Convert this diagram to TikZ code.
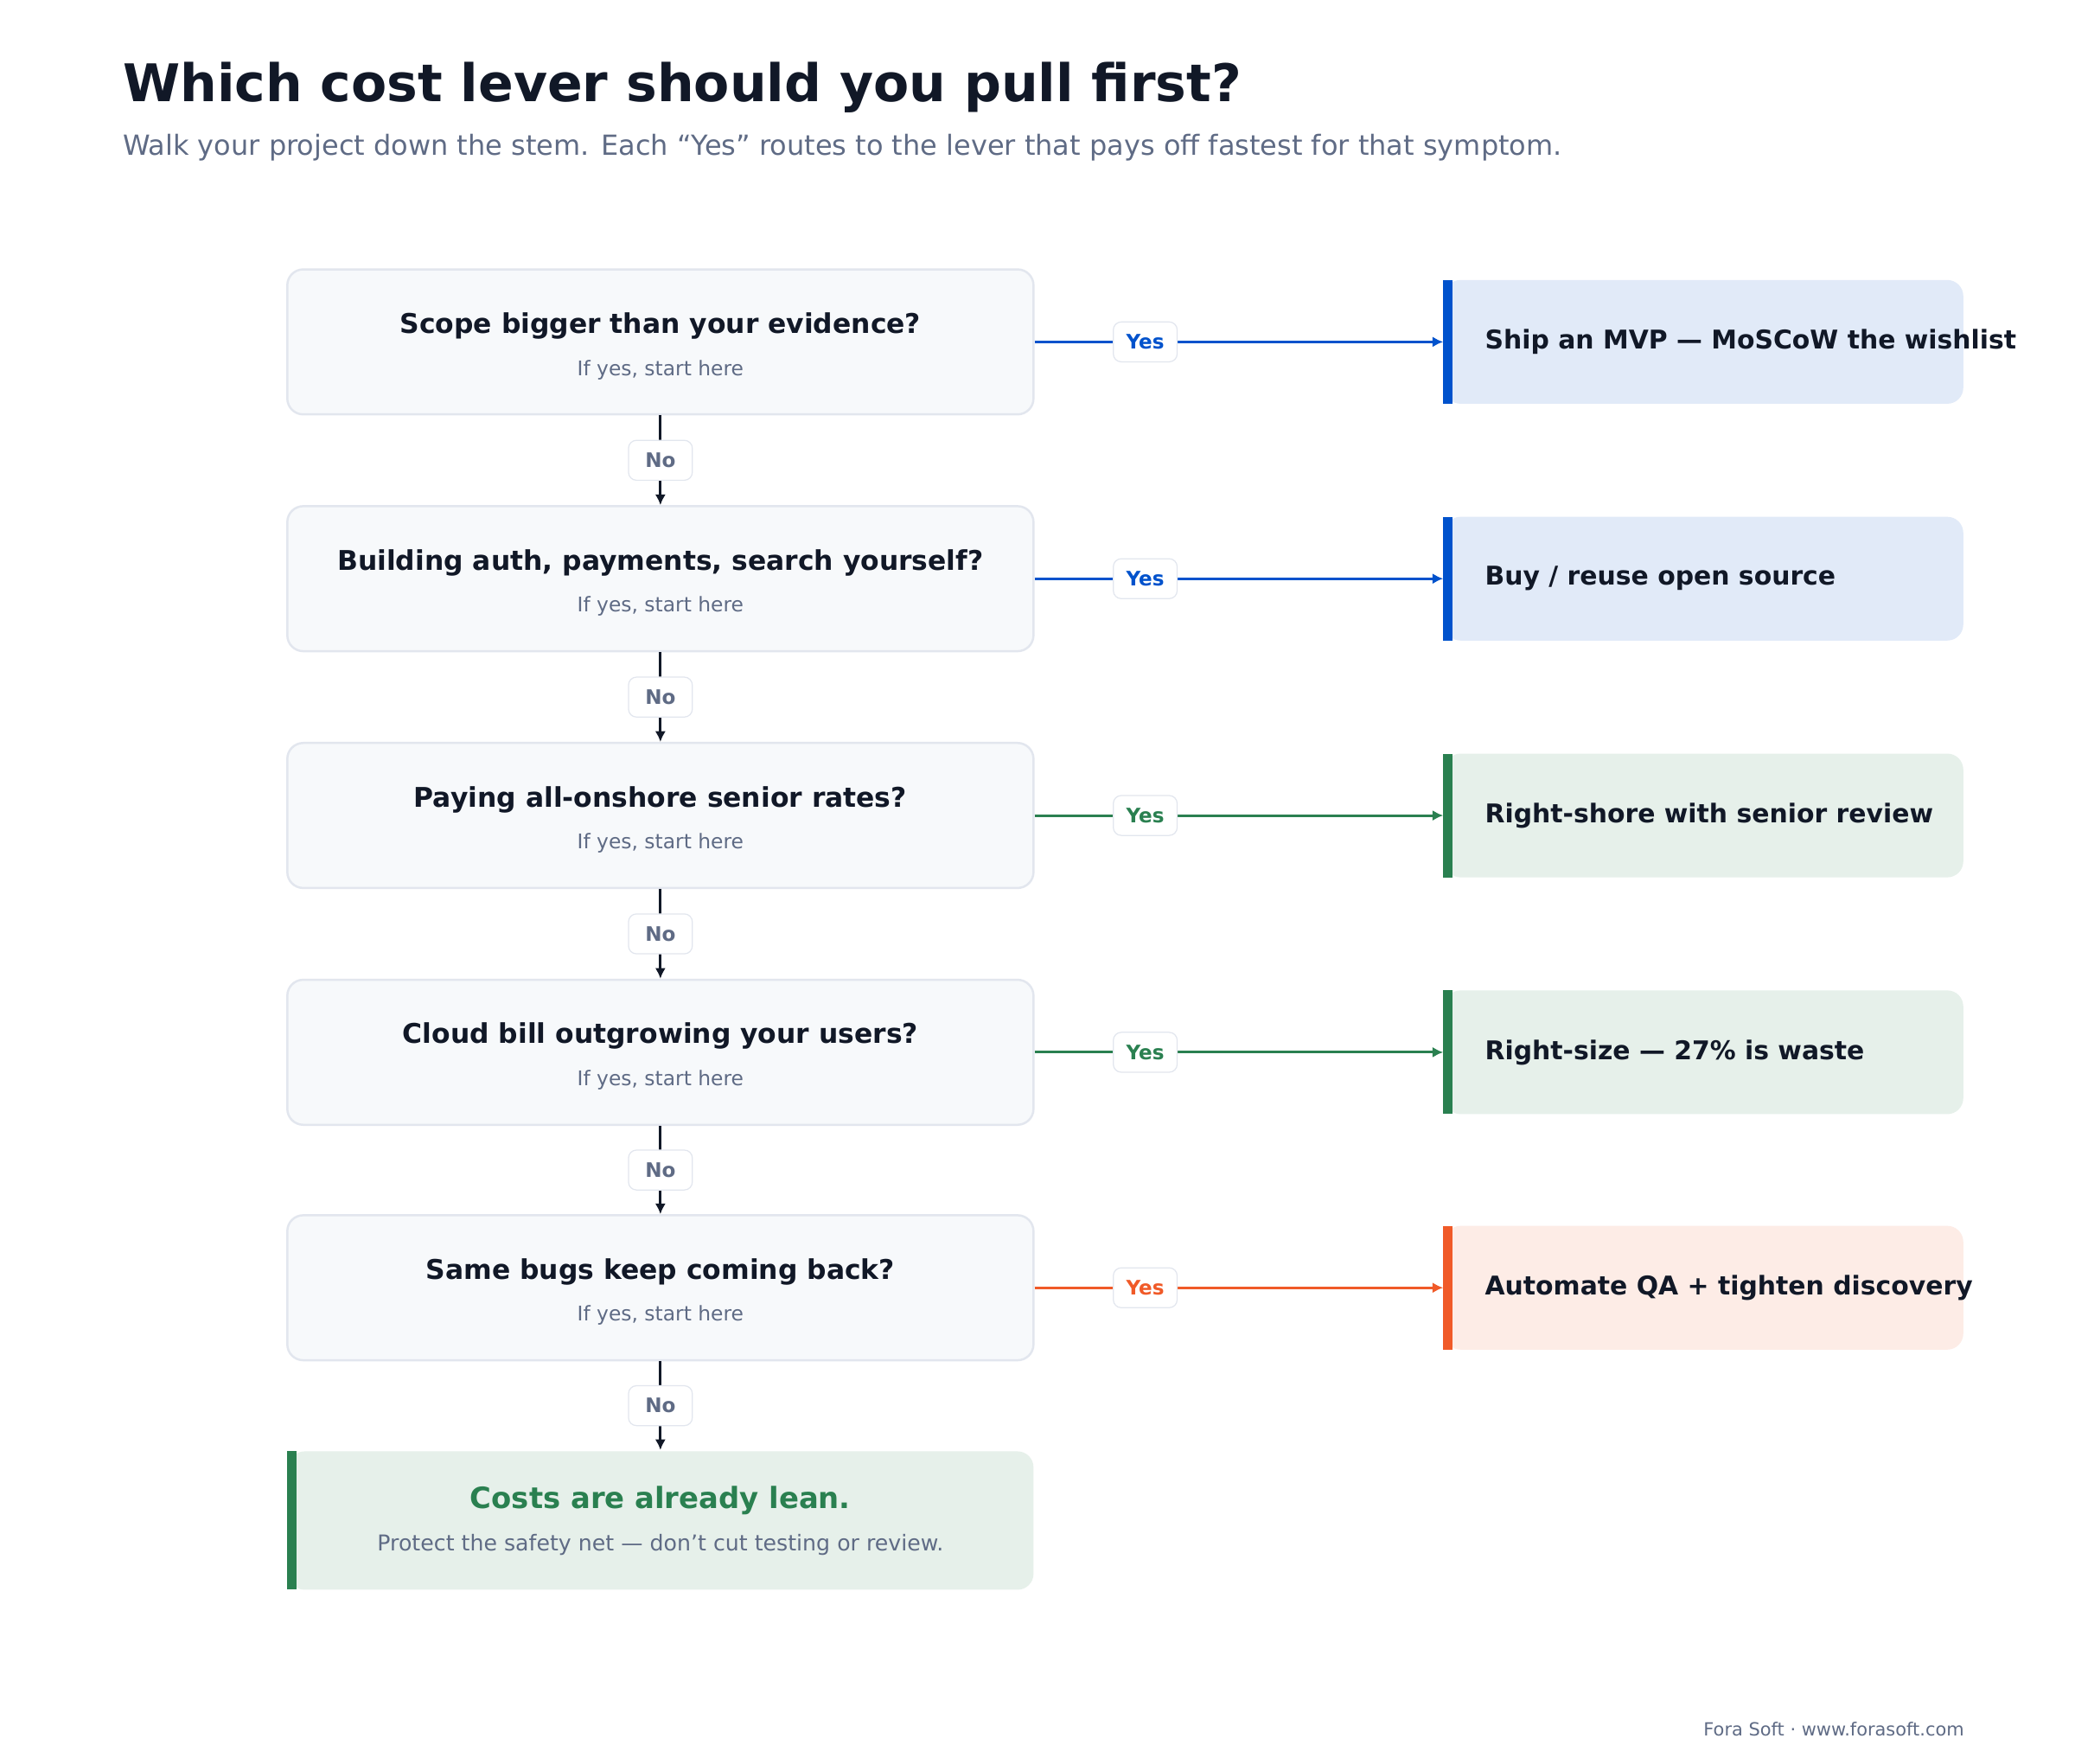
\documentclass[tikz,border=0pt]{standalone}
\usepackage{fontspec}
\setmainfont{DejaVu Sans}
\usetikzlibrary{arrows.meta}
\definecolor{dark}{HTML}{111827}
\definecolor{gray}{HTML}{5F6B85}
\definecolor{qfill}{HTML}{F7F9FB}
\definecolor{qline}{HTML}{E2E6EE}
\definecolor{cblue}{HTML}{0052CC}
\definecolor{fblue}{HTML}{E1EAF8}
\definecolor{cgreen}{HTML}{2A8050}
\definecolor{fgreen}{HTML}{E6F0EA}
\definecolor{corange}{HTML}{F05A28}
\definecolor{forange}{HTML}{FDECE6}
\begin{document}
\begin{tikzpicture}[x=0.5pt,y=-0.5pt,
 q/.style={draw=qline,line width=0.8pt,fill=qfill,rounded corners=6pt,minimum width=280.5pt,minimum height=54.5pt,inner sep=0pt},
 lab/.style={draw=qline,fill=white,rounded corners=3pt,font=\bfseries\fontsize{7.5}{9}\selectfont,minimum width=24pt,minimum height=15pt,inner sep=1pt},
 stem/.style={draw=dark,line width=1pt,-{Latex[length=4pt,width=4pt]}},
 yes/.style={line width=1pt,-{Latex[length=4pt,width=4pt]}},
 qt/.style={font=\bfseries\fontsize{10.2}{12}\selectfont,text=dark},
 qs/.style={font=\fontsize{7.6}{9}\selectfont,text=gray},
 lt/.style={font=\bfseries\fontsize{9.7}{12}\selectfont,text=dark,anchor=west}]
\useasboundingbox (0,0) rectangle (1560,1326);
\fill[white] (0,0) rectangle (1560,1326);
\node[anchor=west,font=\bfseries\fontsize{19.5}{23}\selectfont,text=dark,inner sep=0pt] (title) at (92,66) {Which cost lever should you pull first?};
\node[anchor=west,font=\fontsize{10.4}{12}\selectfont,text=gray,inner sep=0pt] (sub) at (92,111) {Walk your project down the stem. Each “Yes” routes to the lever that pays off fastest for that symptom.};
\node[anchor=east,font=\fontsize{6.8}{8}\selectfont,text=gray,inner sep=0pt] (foot) at (1477,1300) {Fora Soft · www.forasoft.com};
% question boxes
\foreach \i/\y/\t/\c/\f/\lv in {
 1/257/{Scope bigger than your evidence?}/cblue/fblue/{Ship an MVP — MoSCoW the wishlist},
 2/435/{Building auth, payments, search yourself?}/cblue/fblue/{Buy / reuse open source},
 3/613/{Paying all-onshore senior rates?}/cgreen/fgreen/{Right-shore with senior review},
 4/791/{Cloud bill outgrowing your users?}/cgreen/fgreen/{Right-size — 27\% is waste},
 5/968/{Same bugs keep coming back?}/corange/forange/{Automate QA + tighten discovery}}{
 \node[q] (q\i) at (496.5,\y) {};
 \node[qt] (qt\i) at (496.5,\y-12) {\t};
 \node[qs] (qs\i) at (496.5,\y+21) {If yes, start here};
 \fill[\f,rounded corners=6pt] (1086,\y-46.5) rectangle (1476,\y+46.5);
 \fill[\c] (1085,\y-46.5) rectangle (1092,\y+46.5);
 \coordinate (l\i) at (1085,\y);
 \node[lt,inner sep=0pt] (lt\i) at (1116,\y) {\lv};
 \draw[yes,draw=\c] (q\i.east) -- (l\i);
 \node[lab,text=\c] (y\i) at (861,\y) {Yes};
}
% final
\fill[fgreen,rounded corners=6pt] (217,1091) rectangle (777,1195);
\fill[cgreen] (216,1091) rectangle (223,1195);
\coordinate (fin) at (496.5,1090);
\node[font=\bfseries\fontsize{11}{13}\selectfont,text=cgreen] (ft) at (496.5,1128) {Costs are already lean.};
\node[font=\fontsize{8.2}{10}\selectfont,text=gray] (fs) at (496.5,1161) {Protect the safety net — don’t cut testing or review.};
\foreach \a/\b in {1/2,2/3,3/4,4/5}{
 \draw[stem] (q\a.south) -- (q\b.north);
 \path (q\a.south) -- node[lab,text=gray] (n\a) {No} (q\b.north);
}
\draw[stem] (q5.south) -- (fin);
\path (q5.south) -- node[lab,text=gray] (n5) {No} (fin);
\end{tikzpicture}
\end{document}
